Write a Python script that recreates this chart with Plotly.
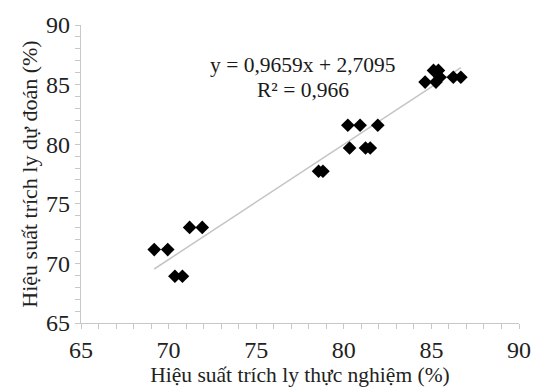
import plotly.graph_objects as go

# Experimental (x) vs predicted (y) extraction efficiency (%)
x_exp = [69.18, 69.95, 70.36, 70.79, 71.20, 71.92, 78.56, 78.81,
         80.23, 80.93, 81.94, 80.33, 81.24, 81.51,
         84.64, 85.12, 85.40, 85.26, 85.49, 86.25, 86.68]
y_pred = [71.16, 71.16, 68.92, 68.92, 73.02, 73.02, 77.73, 77.73,
          81.59, 81.59, 81.59, 79.68, 79.68, 79.68,
          85.21, 86.19, 86.19, 85.21, 85.62, 85.62, 85.62]

slope = 0.9659
intercept = 2.7095
r2_text = "R² = 0,966"
eq_text = "y = 0,9659x + 2,7095"

tick_vals = [65, 70, 75, 80, 85, 90]

x_line = [min(x_exp), max(x_exp)]
y_line = [slope * v + intercept for v in x_line]

font_family = "Liberation Serif"

fig = go.Figure()
fig.add_trace(go.Scatter(
    x=x_line, y=y_line, mode="lines",
    line=dict(color="#c4c4c4", width=1.5),
    hoverinfo="skip", showlegend=False,
))
fig.add_trace(go.Scatter(
    x=x_exp, y=y_pred, mode="markers",
    marker=dict(symbol="diamond", size=10.5, color="black"),
    showlegend=False,
))

fig.add_annotation(x=77.65, y=86.63, text=eq_text, showarrow=False,
                   font=dict(family=font_family, size=21.5, color="#1a1a1a"))
fig.add_annotation(x=77.65, y=84.52, text=r2_text, showarrow=False,
                   font=dict(family=font_family, size=21.5, color="#1a1a1a"))

axis_common = dict(
    range=[65, 90], tickvals=tick_vals, showgrid=False, zeroline=False,
    showline=True, linecolor="#c8c8c8", linewidth=1.3,
    ticks="outside", ticklen=5, tickcolor="#c8c8c8", tickwidth=1.3,
    tickfont=dict(family=font_family, size=24, color="#222222"),
    minor=dict(dtick=1, ticks="outside", ticklen=5, tickcolor="#c8c8c8", tickwidth=1.3),
)

fig.update_layout(
    width=543, height=392,
    font=dict(family=font_family, color="#222222"),
    margin=dict(l=81, r=19, t=19, b=69),
    paper_bgcolor="white", plot_bgcolor="white",
    xaxis=dict(**axis_common,
               title=dict(text="Hiệu suất trích ly thực nghiệm (%)", standoff=0,
                          font=dict(family=font_family, size=21.5, color="#222222"))),
    yaxis=dict(**axis_common,
               title=dict(text="Hiệu suất trích ly dự đoán (%)", standoff=2,
                          font=dict(family=font_family, size=22, color="#222222"))),
)

fig.write_html("out.html")
